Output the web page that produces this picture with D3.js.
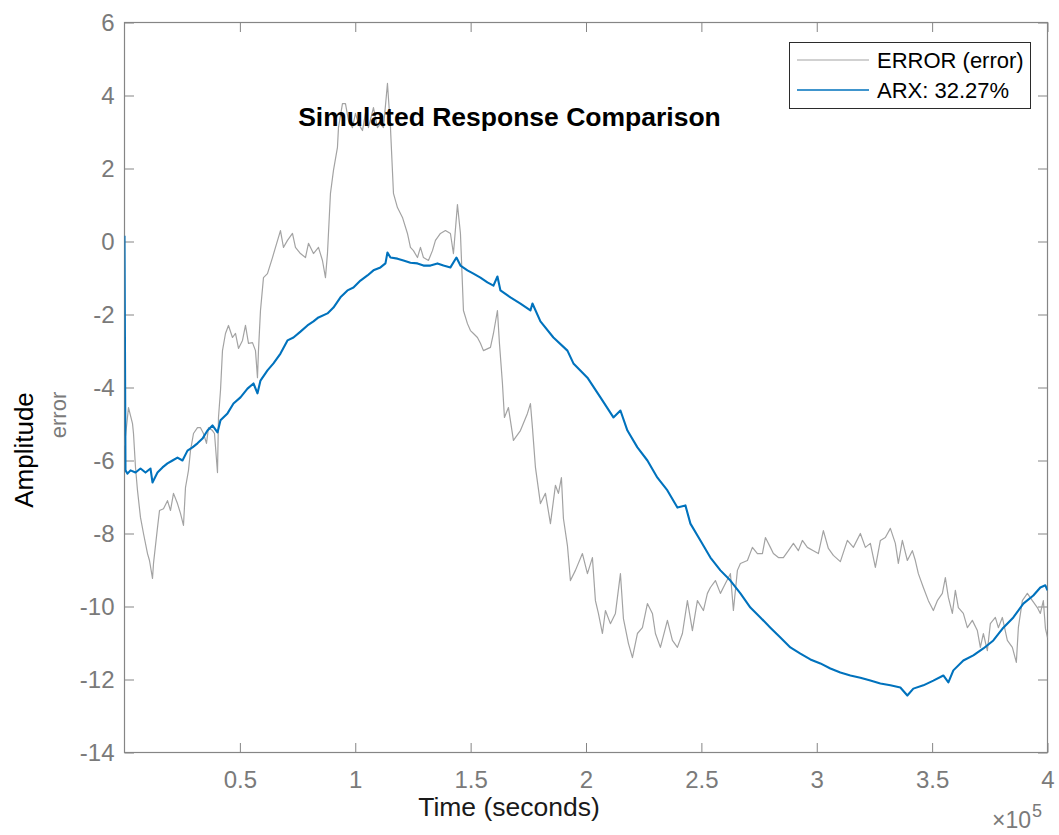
<!DOCTYPE html>
<html>
<head>
<meta charset="utf-8">
<script src="https://cdn.jsdelivr.net/npm/d3@7"></script>
<style>
  html, body { margin: 0; padding: 0; background: #fff; }
  svg { display: block; font-family: "Liberation Sans", Arial, Helvetica, sans-serif; }
</style>
</head>
<body>
<svg id="chart" width="1059" height="835"></svg>
<script>
// ---------------- data ----------------
const errTime = [0,1730,3470,3900,4770,5630,6930,8230,9970,10830,12130,12570,14300,15170,16900,18630,19930,21230,22960,24260,25560,26430,27730,28600,29900,31630,32930,34230,35530,36400,38130,39000,40300,40730,41600,42460,43760,45060,46800,48100,49400,51130,52430,53730,55460,56760,57630,58060,58930,60230,61960,64130,65430,67590,68890,70630,72790,74090,76260,78430,79730,81890,84060,85790,87090,87960,89260,90560,92290,92730,94460,95760,97060,98790,100090,101390,103130,104430,105730,107890,109620,110920,112220,113960,115260,116560,118290,120460,122620,123920,125220,126960,128260,129560,131720,133460,134760,136920,139090,141250,142560,144290,145590,146890,148620,149920,151220,152950,154250,155550,158590,159890,161620,162490,163790,164650,166390,168550,171590,174620,175920,176790,178090,180250,182420,184590,186750,188050,189350,190220,191950,193250,195420,198450,200620,202780,204080,205380,207120,208420,210580,212750,214920,216220,218380,220120,222280,224450,226610,228780,230080,232250,235280,237450,239610,241780,243950,246110,248280,250880,252610,253910,256080,258250,260410,262580,263880,265610,266910,269950,272110,274280,276450,277750,279910,281210,283380,285540,287710,289880,292040,293770,295940,298540,300700,302870,305040,307200,310230,313270,315870,318900,321070,323240,325400,327570,329730,331900,334060,335360,337100,339260,341430,342730,344030,346200,348370,350530,352260,354430,355730,357040,358770,360070,361370,363530,365270,367430,369600,370900,372200,373930,375230,377400,378700,380430,382600,384770,386500,387370,389100,391270,393440,395600,396900,398200,399100,400000];
const errValue = [-5.59,-4.55,-4.99,-5.26,-6.19,-6.82,-7.56,-8.00,-8.55,-8.74,-9.23,-8.82,-7.84,-7.37,-7.32,-7.10,-7.37,-6.90,-7.18,-7.45,-7.78,-6.74,-6.27,-5.73,-5.26,-5.10,-5.10,-5.26,-5.53,-5.10,-5.18,-5.26,-6.33,-4.82,-4.08,-2.99,-2.52,-2.30,-2.63,-2.52,-2.93,-2.71,-2.30,-2.79,-2.77,-2.99,-3.73,-2.99,-1.89,-0.99,-0.88,-0.44,-0.16,0.30,-0.16,0.03,0.22,-0.16,-0.33,-0.44,-0.05,-0.33,-0.16,-0.52,-0.99,-0.33,1.32,1.95,2.58,3.12,3.78,3.78,3.32,3.12,3.51,3.23,3.04,3.51,3.12,3.67,3.12,3.23,3.12,4.33,3.12,1.32,0.93,0.66,0.22,-0.16,-0.25,-0.44,-0.16,-0.44,-0.52,-0.25,0.03,0.22,0.30,0.22,-0.33,1.01,0.22,-1.89,-2.25,-2.44,-2.52,-2.63,-2.79,-2.99,-2.90,-2.52,-1.89,-2.79,-3.89,-4.82,-4.55,-5.45,-5.18,-4.71,-4.44,-5.10,-6.19,-7.18,-6.90,-7.73,-6.68,-6.90,-6.47,-7.59,-8.33,-9.29,-9.01,-8.55,-9.10,-8.66,-9.84,-10.19,-10.74,-10.11,-10.47,-10.19,-9.10,-10.33,-11.01,-11.40,-10.74,-10.58,-9.92,-10.19,-10.74,-11.12,-10.38,-10.93,-11.12,-10.74,-9.84,-10.66,-9.84,-10.11,-9.64,-9.48,-9.29,-9.64,-9.37,-9.10,-10.11,-9.01,-8.82,-8.74,-8.38,-8.55,-8.55,-8.11,-8.38,-8.55,-8.66,-8.66,-8.47,-8.27,-8.47,-8.19,-8.38,-8.47,-8.55,-7.92,-8.41,-8.60,-8.77,-8.19,-8.38,-8.00,-8.38,-8.27,-8.93,-8.19,-8.11,-7.86,-8.27,-8.82,-8.19,-8.74,-8.47,-8.74,-9.10,-9.48,-9.84,-10.11,-9.84,-9.64,-9.21,-9.75,-10.19,-9.56,-10.03,-10.19,-10.58,-10.38,-10.66,-11.12,-10.74,-11.21,-10.47,-10.30,-10.58,-10.30,-10.93,-11.12,-11.53,-10.58,-9.84,-9.64,-9.84,-10.03,-10.19,-9.84,-10.60,-10.85];

const arxTime = [0,430,1300,2600,4770,6930,9100,11270,12130,14300,16470,18630,20800,22960,25130,27300,29460,31630,33800,35960,38130,40300,41600,44630,47230,50260,53300,55900,57630,58930,61960,64560,67590,70630,73230,76260,79290,81890,84060,87960,90560,93590,96630,99230,102260,105290,107890,110920,113090,113960,115260,118290,120890,123920,126960,129560,132590,135620,138220,141250,143850,145590,148620,151220,154250,157280,159890,161620,162920,167250,171590,175920,176790,180250,185880,191950,194550,200620,206250,211880,214920,217950,222280,226610,230950,235280,239610,243080,245250,249580,253910,258250,262580,266910,271240,275570,279910,284240,288570,292900,297240,301570,305900,310230,314570,318900,323240,327570,331900,336230,339260,341860,346200,350530,354860,357040,359200,363530,367860,372200,376530,380860,385200,389530,393860,396900,399070,400000];
const arxValue = [0.16,-6.27,-6.36,-6.27,-6.33,-6.22,-6.33,-6.22,-6.60,-6.33,-6.19,-6.08,-6.00,-5.92,-6.00,-5.73,-5.64,-5.53,-5.40,-5.18,-5.04,-5.23,-4.90,-4.71,-4.44,-4.27,-4.03,-3.89,-4.16,-3.81,-3.53,-3.34,-3.07,-2.71,-2.63,-2.47,-2.30,-2.19,-2.08,-1.97,-1.81,-1.53,-1.34,-1.26,-1.07,-0.93,-0.79,-0.71,-0.60,-0.30,-0.44,-0.47,-0.52,-0.58,-0.60,-0.66,-0.66,-0.60,-0.66,-0.71,-0.44,-0.66,-0.79,-0.88,-0.99,-1.12,-1.21,-0.96,-1.34,-1.53,-1.70,-1.89,-1.70,-2.19,-2.63,-2.99,-3.34,-3.73,-4.27,-4.82,-4.63,-5.18,-5.64,-6.00,-6.47,-6.82,-7.29,-7.23,-7.73,-8.19,-8.66,-9.01,-9.29,-9.64,-10.03,-10.30,-10.58,-10.85,-11.12,-11.29,-11.45,-11.56,-11.70,-11.81,-11.89,-11.95,-12.03,-12.11,-12.16,-12.22,-12.44,-12.25,-12.16,-12.03,-11.89,-12.08,-11.75,-11.48,-11.34,-11.15,-10.93,-10.58,-10.30,-9.92,-9.70,-9.48,-9.42,-9.56];

const xTicks = [50000,100000,150000,200000,250000,300000,350000,400000];
const xTickLabels = ["0.5","1","1.5","2","2.5","3","3.5","4"];
const yTicks = [-14,-12,-10,-8,-6,-4,-2,0,2,4,6];
const yTickLabels = ["-14","-12","-10","-8","-6","-4","-2","0","2","4","6"];
const seriesNames = ["ERROR (error)", "ARX: 32.27%"];
const seriesColors = ["#a3a3a3", "#0072bd"];

// ---------------- layout ----------------
const svg = d3.select("#chart");
const mLeft = 124.5, mRight = 1047.5, mTop = 22.5, mBottom = 752.5;
const axisColor = "#858585", labelColor = "#7a7a7a";

const x = d3.scaleLinear().domain([0, 400000]).range([mLeft, mRight]);
const y = d3.scaleLinear().domain([-14, 6]).range([mBottom, mTop]);

svg.append("defs").append("clipPath").attr("id", "clip")
  .append("rect").attr("x", mLeft).attr("y", mTop).attr("width", mRight - mLeft).attr("height", mBottom - mTop);

// axes (ticks inward, mirrored)
const fmtX = d => xTickLabels[xTicks.indexOf(d)];
const fmtY = d => yTickLabels[yTicks.indexOf(d)];

const gB = svg.append("g").attr("transform", `translate(0,${mBottom})`)
  .call(d3.axisBottom(x).tickValues(xTicks).tickFormat(fmtX).tickSizeInner(-9.5).tickSizeOuter(0).tickPadding(18));
const gT = svg.append("g").attr("transform", `translate(0,${mTop})`)
  .call(d3.axisTop(x).tickValues(xTicks).tickFormat("").tickSizeInner(-9.5).tickSizeOuter(0));
const gL = svg.append("g").attr("transform", `translate(${mLeft},0)`)
  .call(d3.axisLeft(y).tickValues(yTicks).tickFormat(fmtY).tickSizeInner(-9.5).tickSizeOuter(0).tickPadding(10));
const gR = svg.append("g").attr("transform", `translate(${mRight},0)`)
  .call(d3.axisRight(y).tickValues(yTicks).tickFormat("").tickSizeInner(-9.5).tickSizeOuter(0));

[gB, gT, gL, gR].forEach(g => {
  g.select(".domain").remove();
  g.selectAll(".tick line").attr("stroke", axisColor).attr("stroke-width", 1);
  g.selectAll(".tick text").attr("fill", labelColor).style("font-size", "24px")
    .style("font-family", '"Liberation Sans", Arial, sans-serif');
});

// box
svg.append("rect").attr("x", mLeft).attr("y", mTop).attr("width", mRight - mLeft).attr("height", mBottom - mTop)
  .attr("fill", "none").attr("stroke", axisColor).attr("stroke-width", 1.2);

// lines
const line = d3.line().x(d => x(d[0])).y(d => y(d[1]));
const errData = errTime.map((t, i) => [t, errValue[i]]);
const arxData = arxTime.map((t, i) => [t, arxValue[i]]);

const plot = svg.append("g").attr("clip-path", "url(#clip)");
plot.append("path").datum(errData).attr("d", line)
  .attr("fill", "none").attr("stroke", seriesColors[0]).attr("stroke-width", 1.2).attr("stroke-linejoin", "round");
plot.append("path").datum(arxData).attr("d", line)
  .attr("fill", "none").attr("stroke", seriesColors[1]).attr("stroke-width", 2.1).attr("stroke-linejoin", "round");

// title
svg.append("text").attr("x", 509.5).attr("y", 126).attr("text-anchor", "middle")
  .style("font-size", "26.5px").style("font-weight", "bold").attr("fill", "#000")
  .text("Simulated Response Comparison");

// x label
svg.append("text").attr("x", 509).attr("y", 816).attr("text-anchor", "middle")
  .style("font-size", "26.5px").attr("fill", "#1a1a1a").text("Time (seconds)");

// exponent label
const ex = svg.append("text").attr("x", 1031).attr("y", 828).attr("text-anchor", "end")
  .style("font-size", "23px").attr("fill", labelColor);
ex.append("tspan").text("\u00d710");
svg.append("text").attr("x", 1032).attr("y", 817).style("font-size", "18px").attr("fill", labelColor).text("5");

// y labels
svg.append("text").attr("transform", "translate(33,450) rotate(-90)").attr("text-anchor", "middle")
  .style("font-size", "26px").attr("fill", "#000").text("Amplitude");
svg.append("text").attr("transform", "translate(66,415) rotate(-90)").attr("text-anchor", "middle")
  .style("font-size", "22px").attr("fill", labelColor).text("error");

// legend
const lg = svg.append("g");
lg.append("rect").attr("x", 789.5).attr("y", 42.5).attr("width", 241).attr("height", 66)
  .attr("fill", "#fff").attr("stroke", "#2b2b2b").attr("stroke-width", 1);
const rowsY = [60, 90];
seriesNames.forEach((name, i) => {
  lg.append("line").attr("x1", 797).attr("x2", 869).attr("y1", rowsY[i]).attr("y2", rowsY[i])
    .attr("stroke", seriesColors[i]).attr("stroke-width", i === 0 ? 1.2 : 1.4);
  lg.append("text").attr("x", 877).attr("y", rowsY[i] + 8).style("font-size", "22px")
    .attr("fill", "#000").text(name);
});
</script>
</body>
</html>
